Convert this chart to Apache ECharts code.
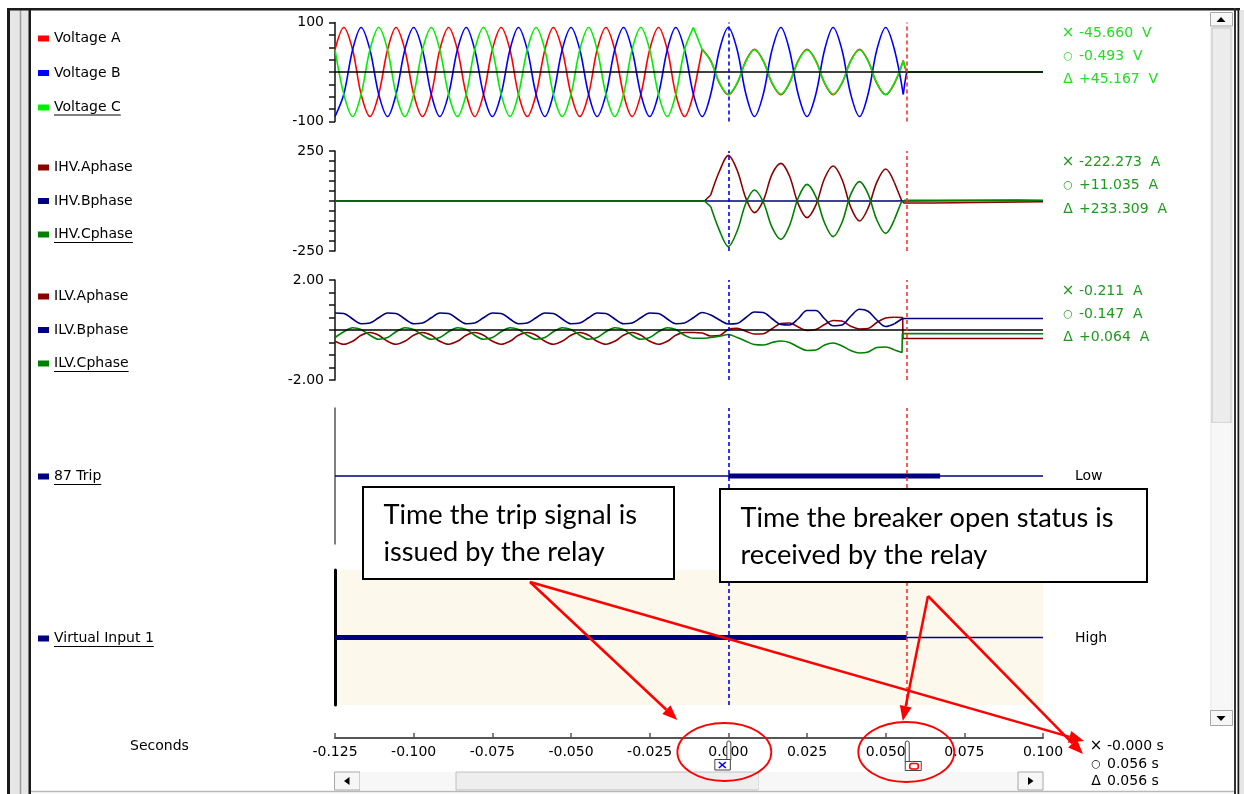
<!DOCTYPE html>
<html><head><meta charset="utf-8">
<script src="https://cdn.jsdelivr.net/npm/echarts@6/dist/echarts.min.js"></script>
<style>html,body{margin:0;padding:0;background:#fff}#c{width:1244px;height:794px}</style>
</head><body><div id="c"></div>
<script>
// ================= DATA =================
// sample instants (seconds) shared by the waveform arrays
const T = [-0.1250,-0.1222,-0.1194,-0.1167,-0.1139,-0.1111,-0.1083,-0.1056,-0.1028,-0.1000,
-0.0972,-0.0944,-0.0917,-0.0889,-0.0861,-0.0833,-0.0806,-0.0778,-0.0750,-0.0722,
-0.0694,-0.0667,-0.0639,-0.0611,-0.0583,-0.0556,-0.0528,-0.0500,-0.0472,-0.0444,
-0.0417,-0.0389,-0.0361,-0.0333,-0.0306,-0.0278,-0.0250,-0.0222,-0.0194,-0.0167,
-0.0139,-0.0111,-0.0083,-0.0056,-0.0028,0.0000,0.0028,0.0056,0.0083,0.0111,
0.0139,0.0167,0.0194,0.0222,0.0250,0.0278,0.0306,0.0333,0.0361,0.0389,
0.0417,0.0444,0.0472,0.0500,0.0528,0.0556];

// Voltage (V) : pre-fault samples T[0..41], post-fault samples T[42..65]
const voltageA_pre = [45,90,45,-45,-90,-45,45,90,45,-45,-90,-45,45,90,45,-45,-90,-45,45,90,45,-45,-90,-45,45,90,45,-45,-90,-45,45,90,45,-45,-90,-45,45,90,45,-45,-90,-45];
const voltageA_post = [46,23,-23,-46,-23,23,46,23,-23,-46,-23,23,46,23,-23,-46,-23,23,46,23,-23,-46,-23,23];
const voltageB = [-90,-45,45,90,45,-45,-90,-45,45,90,45,-45,-90,-45,45,90,45,-45,-90,-45,45,90,45,-45,-90,-45,45,90,45,-45,-90,-45,45,90,45,-45,-90,-45,45,90,45,-45,-90,-45,45,90,45,-45,-90,-45,45,90,45,-45,-90,-45,45,90,45,-45,-90,-45,45,90,45,-45];
const voltageC_pre = [45,-45,-90,-45,45,90,45,-45,-90,-45,45,90,45,-45,-90,-45,45,90,45,-45,-90,-45,45,90,45,-45,-90,-45,45,90,45,-45,-90,-45,45,90,45,-45,-90,-45,45,90];
const voltageC_post = [45,22,-22,-45,-22,22,45,22,-22,-45,-22,22,45,22,-22,-45,-22,22,45,22,-22,-45,-22,22];
const voltageA_fault = [[-0.0111,-45],[-0.0083,46]];
const voltageC_fault = [[-0.0111,90],[-0.0083,45]];
const voltageA_end = [[0.0556,23],[0.0562,8],[0.0568,0],[0.1000,0]];
const voltageB_end = [[0.0556,-45],[0.0560,-26],[0.0565,-6],[0.0568,0],[0.1000,0]];
const voltageC_end = [[0.0556,22],[0.0562,10],[0.0568,0],[0.1000,0]];

// IHV currents (A) : samples T[43..64]
const ihvA = [30,150,228,154,13,-58,2,134,188,126,-14,-83,-21,114,175,109,-31,-100,-36,94,160,91];
const ihvC = [-28,-148,-228,-150,-10,55,-5,-132,-192,-125,15,83,22,-110,-178,-108,33,97,36,-95,-162,-92];
const ihvA_start = [[-0.1250,0],[-0.0076,0],[-0.0056,30]];
const ihvC_start = [[-0.1250,0],[-0.0076,0],[-0.0056,-28]];
const ihvA_end = [[0.0528,91],[0.0550,5],[0.0558,-10],[0.0650,-10],[0.0652,-4],[0.1000,-4]];
const ihvC_end = [[0.0528,-92],[0.0550,-5],[0.0560,3],[0.1000,3]];
const ihvB = [[-0.1250,0],[0.0520,0],[0.0520,4],[0.0920,4],[0.0920,1],[0.1000,1]];

// ILV currents (A) : samples T[0..64]
const ilvA = [-0.45,-0.57,-0.45,-0.21,-0.10,-0.21,-0.45,-0.57,-0.45,-0.21,-0.10,-0.21,-0.45,-0.57,-0.45,-0.21,-0.10,-0.21,-0.45,-0.57,-0.45,-0.21,-0.10,-0.21,-0.45,-0.57,-0.45,-0.21,-0.10,-0.21,-0.45,-0.57,-0.45,-0.21,-0.10,-0.21,-0.45,-0.57,-0.45,-0.21,
-0.10,-0.10,-0.12,-0.24,-0.22,0.02,
0.07,-0.05,-0.16,-0.15,0.05,0.26,0.28,0.12,-0.02,0.02,0.22,0.38,0.36,0.15,0.04,0.06,0.30,0.48,0.51];
const ilvB = [0.68,0.66,0.44,0.25,0.28,0.49,0.68,0.66,0.44,0.25,0.28,0.49,0.68,0.66,0.44,0.25,0.28,0.49,0.68,0.66,0.44,0.25,0.28,0.49,0.68,0.66,0.44,0.25,0.28,0.49,0.68,0.66,0.44,0.25,0.28,0.49,0.68,0.66,0.44,0.25,0.28,0.49,
0.70,0.60,0.40,0.24,
0.26,0.50,0.72,0.70,0.45,0.22,0.20,0.45,0.78,0.78,0.45,0.17,0.20,0.55,0.83,0.75,0.40,0.14,0.25];
const ilvC = [-0.30,-0.07,0.09,0.02,-0.21,-0.37,-0.30,-0.07,0.09,0.02,-0.21,-0.37,-0.30,-0.07,0.09,0.02,-0.21,-0.37,-0.30,-0.07,0.09,0.02,-0.21,-0.37,-0.30,-0.07,0.09,0.02,-0.21,-0.37,-0.30,-0.07,0.09,0.02,-0.21,-0.37,-0.30,-0.07,0.09,0.02,-0.21,
-0.33,-0.33,-0.30,-0.25,-0.18,
-0.30,-0.45,-0.58,-0.60,-0.50,-0.44,-0.50,-0.68,-0.82,-0.80,-0.60,-0.52,-0.64,-0.82,-0.92,-0.88,-0.70,-0.68,-0.80];
const ilvA_end = [[0.0528,0.51],[0.0554,0.50],[0.0555,-0.34],[0.1000,-0.34]];
const ilvB_end = [[0.0528,0.25],[0.0551,0.44],[0.0560,0.46],[0.1000,0.46]];
const ilvC_end = [[0.0528,-0.80],[0.0552,-0.90],[0.0553,-0.14],[0.1000,-0.15]];

// digital channels: [start, end] of asserted (thick) state
const trip87_on = [0.0000, 0.0673];
const vi1_on = [-0.1250, 0.0567];
const timeRange = [-0.125, 0.100];

// cursors and read-outs
const cursorTimes = [0.0000, 0.0567];
const voltageReadout = ['-45.660  V','-0.493  V','+45.167  V'];
const ihvReadout = ['-222.273  A','+11.035  A','+233.309  A'];
const ilvReadout = ['-0.211  A','-0.147  A','+0.064  A'];
const timeReadout = ['-0.000 s','0.056 s','0.056 s'];
const readoutSymbols = ['×','○','Δ'];
const xTickLabels = ['-0.125','-0.100','-0.075','-0.050','-0.025','0.000','0.025','0.050','0.075','0.100'];
const notes = [['Time the trip signal is','issued by the relay'],['Time the breaker open status is','received by the relay']];

// ================= CHART =================
const FONT = '"DejaVu Sans", Verdana, sans-serif';
const RED='#ff0000', BLUE='#0000ff', LIME='#00ee00', MAROON='#8b0000', NAVY='#000080', GREEN='#008000';
const SM = 0.34;
const zip = (ts, vs) => ts.map((t,i)=>[t, vs[i]]);

const series = [];
function ln(name, color, g, data, opt){
  series.push(Object.assign({type:'line', name, xAxisIndex:g, yAxisIndex:g, data,
    symbol:'none', showSymbol:false, silent:true, animation:false,
    lineStyle:{color, width:1.6}, itemStyle:{color}, emphasis:{disabled:true}}, opt||{}));
}
function refSeries(g, lines, z){
  series.push({type:'line', xAxisIndex:g, yAxisIndex:g, data:[[0,0]], symbol:'none', silent:true,
    lineStyle:{opacity:0}, z, animation:false,
    markLine:{silent:true, symbol:'none', precision:6, animation:false, label:{show:false}, data:lines}});
}
const zeroLine = [{yAxis:0, lineStyle:{color:'#000', width:1.5, type:'solid'}}];
const cursorLines = [
  {xAxis:cursorTimes[0], lineStyle:{color:BLUE, width:1.6, type:[4,3]}},
  {xAxis:cursorTimes[1], lineStyle:{color:'#ff3030', width:1.6, type:[4,3]}}];

// panel 0 voltage
refSeries(0, zeroLine, 1);
ln('Voltage A', RED, 0, zip(T.slice(0,42), voltageA_pre), {smooth:SM});
ln('Voltage A', RED, 0, voltageA_fault);
ln('Voltage A', RED, 0, zip(T.slice(42), voltageA_post), {smooth:SM});
ln('Voltage A', RED, 0, voltageA_end);
ln('Voltage B', BLUE, 0, zip(T, voltageB), {smooth:SM});
ln('Voltage B', BLUE, 0, voltageB_end);
ln('Voltage C', LIME, 0, zip(T.slice(0,42), voltageC_pre), {smooth:SM});
ln('Voltage C', LIME, 0, voltageC_fault);
ln('Voltage C', LIME, 0, zip(T.slice(42), voltageC_post), {smooth:SM});
ln('Voltage C', LIME, 0, voltageC_end);
// panel 1 IHV
ln('IHV.Aphase', MAROON, 1, ihvA_start);
ln('IHV.Aphase', MAROON, 1, zip(T.slice(43,65), ihvA), {smooth:SM});
ln('IHV.Aphase', MAROON, 1, ihvA_end);
ln('IHV.Bphase', NAVY, 1, ihvB);
ln('IHV.Cphase', GREEN, 1, ihvC_start);
ln('IHV.Cphase', GREEN, 1, zip(T.slice(43,65), ihvC), {smooth:SM});
ln('IHV.Cphase', GREEN, 1, ihvC_end);
// panel 2 ILV
refSeries(2, zeroLine, 1);
ln('ILV.Aphase', MAROON, 2, zip(T.slice(0,65), ilvA), {smooth:SM});
ln('ILV.Aphase', MAROON, 2, ilvA_end);
ln('ILV.Bphase', NAVY, 2, zip(T.slice(0,65), ilvB), {smooth:SM});
ln('ILV.Bphase', NAVY, 2, ilvB_end);
ln('ILV.Cphase', GREEN, 2, zip(T.slice(0,65), ilvC), {smooth:SM});
ln('ILV.Cphase', GREEN, 2, ilvC_end);
// panel 3 87 Trip
ln('87 Trip', NAVY, 3, [[timeRange[0],0],[timeRange[1],0]], {lineStyle:{color:NAVY,width:1.4}});
ln('87 Trip', NAVY, 3, [[trip87_on[0],0],[trip87_on[1],0]], {lineStyle:{color:NAVY,width:5}});
// panel 4 Virtual Input 1
ln('Virtual Input 1', NAVY, 4, [[vi1_on[0],0],[vi1_on[1],0]], {lineStyle:{color:NAVY,width:5}});
ln('Virtual Input 1', NAVY, 4, [[vi1_on[1],0],[timeRange[1],0]], {lineStyle:{color:NAVY,width:1.4}});
for (let g=0; g<5; g++) refSeries(g, cursorLines, 5);

const grids = [
  {left:335, right:201, top:22.5, height:99},
  {left:335, right:201, top:151, height:100},
  {left:335, right:201, top:280, height:100},
  {left:335, right:201, top:408, height:136},
  {left:335, right:201, top:570, height:135, show:true, borderWidth:0, backgroundColor:'#fcf8ec'},
  {left:335, right:201, top:705, height:33}
];
const xAxes = grids.map((gr,g)=>({gridIndex:g, type:'value', min:timeRange[0], max:timeRange[1], show:false}));
xAxes[5] = {gridIndex:5, type:'value', min:timeRange[0], max:timeRange[1], interval:0.025,
  axisLine:{onZero:false, lineStyle:{color:'#555', width:2}},
  axisTick:{inside:true, length:5, lineStyle:{color:'#555', width:1.5}},
  splitLine:{show:false},
  axisLabel:{margin:7, color:'#000', fontFamily:FONT, fontSize:14,
    formatter: v => { const i = Math.round((v - timeRange[0]) / 0.025); return xTickLabels[i] || ''; }}};
function yax(g, min, max, interval, lab){
  return {gridIndex:g, type:'value', min, max, interval,
    axisLine:{show:true, onZero:false, lineStyle:{color:'#111', width:1.5}},
    axisTick:{show:true, inside:false, length:6, lineStyle:{color:'#111', width:1.5}},
    splitLine:{show:false},
    axisLabel:{margin:11, color:'#000', fontFamily:FONT, fontSize:14,
      formatter: v => Math.abs(v-max)<1e-9 ? lab[0] : (Math.abs(v-min)<1e-9 ? lab[1] : '')}};
}
const yAxes = [
  yax(0,-100,100,25,['100','-100']),
  yax(1,-250,250,50,['250','-250']),
  yax(2,-2,2,0.5,['2.00','-2.00']),
  {gridIndex:3, type:'value', min:-1, max:1, axisLine:{show:true,onZero:false,lineStyle:{color:'#555',width:1.5}}, axisTick:{show:false}, axisLabel:{show:false}, splitLine:{show:false}},
  {gridIndex:4, type:'value', min:-1, max:1, axisLine:{show:true,onZero:false,lineStyle:{color:'#000',width:3}}, axisTick:{show:false}, axisLabel:{show:false}, splitLine:{show:false}},
  {gridIndex:5, type:'value', show:false}
];
const legendGroups = [
  [['Voltage A','Voltage B','Voltage C'], 38.5, 20.5],
  [['IHV.Aphase','IHV.Bphase','IHV.Cphase'], 167.5, 19.5],
  [['ILV.Aphase','ILV.Bphase','ILV.Cphase'], 296.5, 19.5],
  [['87 Trip'], 476.5, 19.5],
  [['Virtual Input 1'], 638.5, 19.5]
];
const legends = legendGroups.map(([names, cy, gap]) => ({data:names, orient:'vertical', left:38, top:cy-7,
  itemGap:gap, itemWidth:11, itemHeight:6, icon:'rect', padding:0, selectedMode:false,
  textStyle:{fontFamily:FONT, fontSize:14, color:'#000', lineHeight:14}}));

const chart = echarts.init(document.getElementById('c'));
chart.setOption({animation:false, backgroundColor:'#fff', grid:grids, xAxis:xAxes, yAxis:yAxes, legend:legends, series});

// ================= DECORATION (window frame, notes) =================
const mctx = document.createElement('canvas').getContext('2d');
const tw = (t, f) => { mctx.font = f; return mctx.measureText(t).width; };
const G = [];
const R = (x,y,w,h,fill,stroke,lw,z,r) => G.push({type:'rect', z:z||10, silent:true, shape:{x,y,width:w,height:h,r:r||0}, style:{fill:fill||'none', stroke:stroke||'none', lineWidth:lw||1}});
const L = (x1,y1,x2,y2,stroke,lw,z) => G.push({type:'line', z:z||10, silent:true, shape:{x1,y1,x2,y2}, style:{stroke, lineWidth:lw}});
const TX = (x,y,text,font,fill,align,z) => G.push({type:'text', z:z||10, silent:true, x, y, style:{text, font, fill:fill||'#000', align:align||'left', verticalAlign:'middle'}});
const PG = (pts,fill,z) => G.push({type:'polygon', z:z||10, silent:true, shape:{points:pts}, style:{fill}});
const F14 = '14px ' + FONT;

// frame
R(7,8,3,786,'#1a1a1a'); R(10,10,19,784,'#e6e6e6'); L(20.5,10,20.5,794,'#9a9a9a',1.5); R(28.5,10,2.5,784,'#1a1a1a');
R(7,8,1233,2.5,'#1a1a1a');
R(1234,8,2,786,'#333'); R(1237.5,8,2,786,'#1a1a1a'); R(1239.5,10,4.5,784,'#e6e6e6');
L(31,791.5,1234,791.5,'#b8b8b8',1.5);
// vertical scroll bar
R(1210,12,23,714,'#f0f0f0');
R(1210.5,12.5,22,13.5,'#f6f6f6','#a8a8a8',1); PG([[1216.5,22],[1225.5,22],[1221,17]],'#000');
R(1212,28,19,395,'#ececec','#c4c4c4',1);
R(1212,423,19,287,'#f7f7f7');
R(1210.5,710.5,22,15,'#f6f6f6','#a8a8a8',1); PG([[1216.5,716],[1225.5,716],[1221,721]],'#000');
// horizontal scroll bar
R(334.5,772,25.5,18,'#f6f6f6','#a8a8a8',1); PG([[349.5,777],[349.5,785],[344,781]],'#000');
R(360,772,96,18,'#f7f7f7');
R(456,772,302.5,18,'#eeeeee','#c0c0c0',1);
R(758.5,772,259.5,18,'#f7f7f7');
R(1018,772,25,18,'#f6f6f6','#a8a8a8',1); PG([[1028,777],[1028,785],[1033.5,781]],'#000');

// legend underlines (selected channels)
[['Voltage C',107],['IHV.Cphase',234.5],['ILV.Cphase',363.5],['87 Trip',476.5],['Virtual Input 1',638.5]].forEach(([t,cy])=>{
  L(54, cy+8, 54+tw(t,F14), cy+8, '#000', 1, 10);
});
// labels
TX(130, 746.5, 'Seconds', F14);
TX(1075, 476, 'Low', F14);
TX(1075, 638, 'High', F14);
function readout(x, ys, vals, color){
  vals.forEach((v,i)=>{
    const sf = readoutSymbols[i]==='○' ? '11px '+FONT : (readoutSymbols[i]==='×' ? '15px '+FONT : F14);
    TX(x+6, ys[i], readoutSymbols[i], sf, color, 'center');
    TX(x+17, ys[i], v, F14, color);
  });
}
readout(1062, [33,56.5,79.5], voltageReadout, '#22dd22');
readout(1062, [162.5,185.5,209], ihvReadout, '#1f9a1f');
readout(1062, [291.5,314.5,337.5], ilvReadout, '#1f9a1f');
readout(1090, [746.5,764,781], timeReadout, '#000');

// cursor flags under the axis
const x0 = chart.convertToPixel({xAxisIndex:5}, cursorTimes[0]);
const x1 = chart.convertToPixel({xAxisIndex:5}, cursorTimes[1]);
R(x0-1.5,741,4,19,'#fff','#444',1,20,[2,2,0,0]); R(x0-13.5,759.5,15.5,10.5,'#fff','#444',1,20);
L(x0-9.5,762,x0-2.5,768,BLUE,1.6,21); L(x0-9.5,768,x0-2.5,762,BLUE,1.6,21);
R(x1-1.5,741,4,21,'#fff','#444',1,20,[2,2,0,0]); R(x1-1.5,761.5,16,9,'#fff','#444',1,20);
R(x1+3,763.5,8.5,5.5,'none',RED,1.6,21,2);

// note boxes
const noteFont = 'Lato, "Open Sans", sans-serif';
const nfs = 254 / tw(notes[0][0], '100px ' + noteFont) * 100;
const NF = nfs.toFixed(1) + 'px ' + noteFont;
R(363,487,311,92,'#fff','#000',2,100);
TX(383.5,515,notes[0][0],NF,'#000','left',101); TX(383.5,552,notes[0][1],NF,'#000','left',101);
R(720,489,427,93,'#fff','#000',2,100);
TX(740.5,518,notes[1][0],NF,'#000','left',101); TX(740.5,555,notes[1][1],NF,'#000','left',101);
// arrows
function arrow(xa,ya,xb,yb){
  const a = Math.atan2(yb-ya, xb-xa), Lh = 15, W = 6;
  const bx = xb - Lh*Math.cos(a), by = yb - Lh*Math.sin(a);
  L(xa,ya,bx,by,RED,2.5,102);
  PG([[xb,yb],[bx - W*Math.sin(a), by + W*Math.cos(a)],[bx + W*Math.sin(a), by - W*Math.cos(a)]], RED, 102);
}
arrow(530,582,x0-51,720);
arrow(530,582,1084,741);
arrow(928,596,x1-4,721);
arrow(928,596,1083,754);
G.push({type:'ellipse', z:102, silent:true, shape:{cx:x0-4, cy:752, rx:47, ry:29}, style:{fill:'none', stroke:RED, lineWidth:1.8}});
G.push({type:'ellipse', z:102, silent:true, shape:{cx:x1-0.5, cy:752, rx:48, ry:30}, style:{fill:'none', stroke:RED, lineWidth:1.8}});

chart.setOption({graphic:{elements:G}});
</script></body></html>
